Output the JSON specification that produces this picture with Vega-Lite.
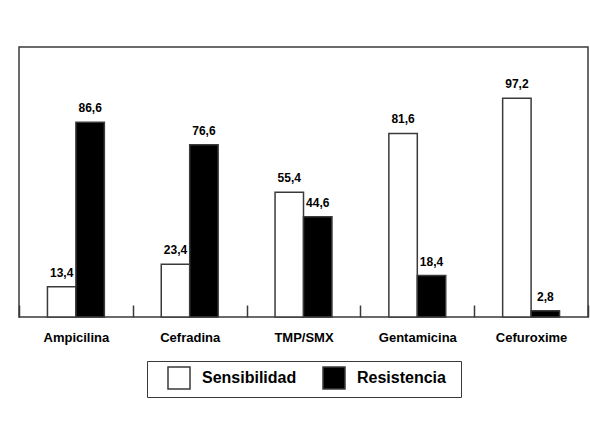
{
  "$schema": "https://vega.github.io/schema/vega-lite/v6.json",
  "width": 569,
  "height": 270,
  "autosize": {"type": "none"},
  "padding": {"left": 19, "top": 47, "right": 2, "bottom": 106},
  "config": {
    "locale": {"number": {"decimal": ",", "thousands": ".", "grouping": [3], "currency": ["", ""]}},
    "view": {"stroke": "#3a3a3a", "strokeWidth": 1.5},
    "font": "Liberation Sans"
  },
  "data": {
    "values": [
      {"antibiotico": "Ampicilina", "tipo": "Sensibilidad", "valor": 13.4},
      {"antibiotico": "Ampicilina", "tipo": "Resistencia", "valor": 86.6},
      {"antibiotico": "Cefradina", "tipo": "Sensibilidad", "valor": 23.4},
      {"antibiotico": "Cefradina", "tipo": "Resistencia", "valor": 76.6},
      {"antibiotico": "TMP/SMX", "tipo": "Sensibilidad", "valor": 55.4},
      {"antibiotico": "TMP/SMX", "tipo": "Resistencia", "valor": 44.6},
      {"antibiotico": "Gentamicina", "tipo": "Sensibilidad", "valor": 81.6},
      {"antibiotico": "Gentamicina", "tipo": "Resistencia", "valor": 18.4},
      {"antibiotico": "Cefuroxime", "tipo": "Sensibilidad", "valor": 97.2},
      {"antibiotico": "Cefuroxime", "tipo": "Resistencia", "valor": 2.8}
    ]
  },
  "encoding": {
    "x": {
      "field": "antibiotico",
      "type": "nominal",
      "sort": ["Ampicilina", "Cefradina", "TMP/SMX", "Gentamicina", "Cefuroxime"],
      "scale": {"paddingInner": 0, "paddingOuter": 0},
      "axis": {
        "title": null,
        "domain": false,
        "tickBand": "extent",
        "tickSize": -12,
        "tickColor": "#3a3a3a",
        "tickWidth": 1.5,
        "labelAngle": 0,
        "labelFont": "Liberation Sans",
        "labelFontWeight": "bold",
        "labelFontSize": 13,
        "labelColor": "black",
        "labelPadding": 26
      }
    },
    "xOffset": {
      "field": "tipo",
      "sort": ["Sensibilidad", "Resistencia"],
      "scale": {"paddingInner": 0, "paddingOuter": 1}
    },
    "y": {
      "field": "valor",
      "type": "quantitative",
      "scale": {"domain": [0, 120]},
      "axis": null
    }
  },
  "layer": [
    {
      "mark": {"type": "bar", "stroke": "#3a3a3a", "strokeWidth": 1.5},
      "encoding": {
        "color": {
          "field": "tipo",
          "type": "nominal",
          "scale": {"domain": ["Sensibilidad", "Resistencia"], "range": ["white", "black"]},
          "legend": {
            "title": " ",
            "titleOrient": "right",
            "titlePadding": 10,
            "orient": "none",
            "legendX": 128,
            "legendY": 314,
            "direction": "horizontal",
            "strokeColor": "#3a3a3a",
            "padding": 5,
            "symbolType": "square",
            "symbolSize": 484,
            "symbolStrokeColor": "#3a3a3a",
            "symbolStrokeWidth": 1.5,
            "symbolOffset": 15,
            "labelOffset": 11,
            "columnPadding": 10,
            "labelFont": "Liberation Sans",
            "labelFontSize": 16,
            "labelFontWeight": "bold",
            "labelColor": "black"
          }
        }
      }
    },
    {
      "mark": {"type": "text", "dy": -7, "baseline": "bottom", "fontWeight": "bold", "fontSize": 12, "color": "black"},
      "encoding": {
        "text": {"field": "valor", "type": "quantitative", "format": ".1f"}
      }
    }
  ]
}
